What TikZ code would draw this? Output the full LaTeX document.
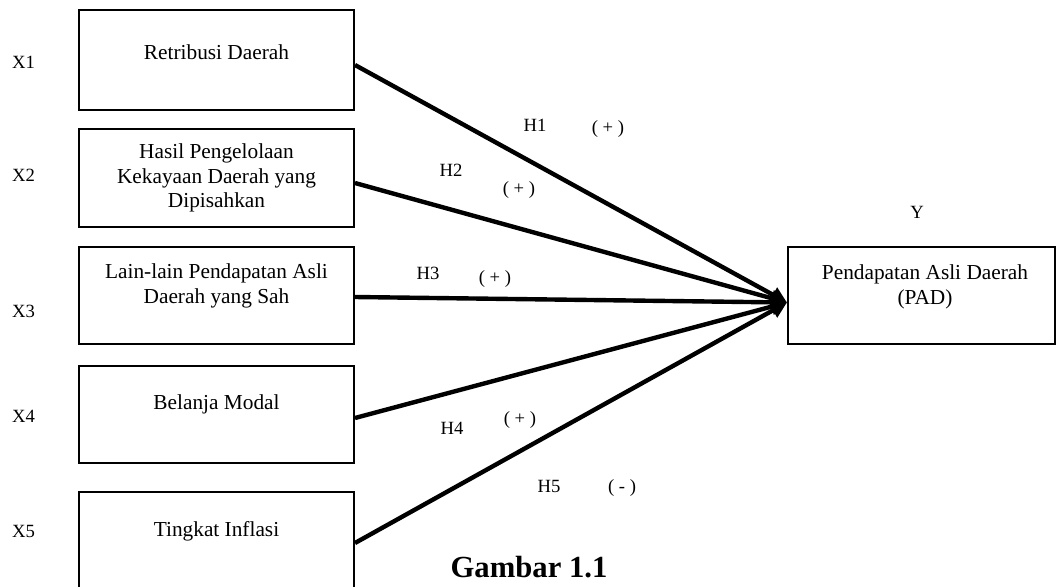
\documentclass[tikz,border=0pt]{standalone}
\usepackage{fontspec}
\setmainfont{Liberation Serif}
\usetikzlibrary{arrows.meta,calc}
\begin{document}
\begin{tikzpicture}[x=0.75pt,y=-0.75pt,
  box/.style={draw,line width=1.5pt,inner sep=0pt,minimum width=206.25pt},
  btxt/.style={font=\fontsize{16}{18.5}\selectfont,align=center,inner sep=0pt},
  lbl/.style={font=\fontsize{14}{16}\selectfont,inner sep=0pt},
  arr/.style={line width=3.3pt,-{Triangle[length=12pt,width=12pt]}}]
\useasboundingbox (0,0) rectangle (1057,586);
% boxes
\node[box,minimum height=75pt] (b1) at (216.5,60) {};
\node[box,minimum height=73.5pt] (b2) at (216.5,178) {};
\node[box,minimum height=72.75pt] (b3) at (216.5,295.5) {};
\node[box,minimum height=72.75pt] (b4) at (216.5,414.5) {};
\node[box,minimum height=96pt] (b5) at (216.5,556) {};
\node[box,minimum width=200.25pt,minimum height=72.75pt] (Y) at (921.5,295.5) {};
% box texts
\node[btxt] (t1) at (216.5,52) {Retribusi Daerah};
\node[btxt] (t2) at (216.5,178) {Hasil Pengelolaan\\Kekayaan Daerah yang\\Dipisahkan};
\node[btxt] (t3) at (216.5,286) {Lain-lain Pendapatan Asli\\Daerah yang Sah};
\node[btxt] (t4) at (216.5,404) {Belanja Modal};
\node[btxt] (t5) at (216.5,531) {Tingkat Inflasi};
\node[btxt] (ty) at (925,287) {Pendapatan Asli Daerah\\(PAD)};
% variable labels
\node[lbl] (x1) at (23.5,62) {X1};
\node[lbl] (x2) at (23.5,175) {X2};
\node[lbl] (x3) at (23.5,311) {X3};
\node[lbl] (x4) at (23.5,416) {X4};
\node[lbl] (x5) at (23.5,531) {X5};
\node[lbl] (yl) at (917,212) {Y};
% hypothesis labels
\node[lbl] (h1) at (535,125) {H1};
\node[lbl] (s1) at (608,129) {( + )};
\node[lbl] (h2) at (451,170) {H2};
\node[lbl] (s2) at (519,190) {( + )};
\node[lbl] (h3) at (428,273) {H3};
\node[lbl] (s3) at (495,279) {( + )};
\node[lbl] (h4) at (452,428) {H4};
\node[lbl] (s4) at (520,420) {( + )};
\node[lbl] (h5) at (549,486) {H5};
\node[lbl] (s5) at (622,488) {( - )};
% arrows
\coordinate (tip) at ($(Y.west)+(0,7)$);
\draw[arr] ($(b1.east)+(0,5)$) -- (tip);
\draw[arr] ($(b2.east)+(0,5)$) -- (tip);
\draw[arr] ($(b3.east)+(0,1.5)$) -- (tip);
\draw[arr] ($(b4.east)+(0,3.5)$) -- (tip);
\draw[arr] ($(b5.east)+(0,-13)$) -- (tip);
% caption
\node[font=\fontsize{23}{26}\selectfont\bfseries,anchor=base,inner sep=0pt] (cap) at (529,577) {Gambar 1.1};
\end{tikzpicture}
\end{document}
